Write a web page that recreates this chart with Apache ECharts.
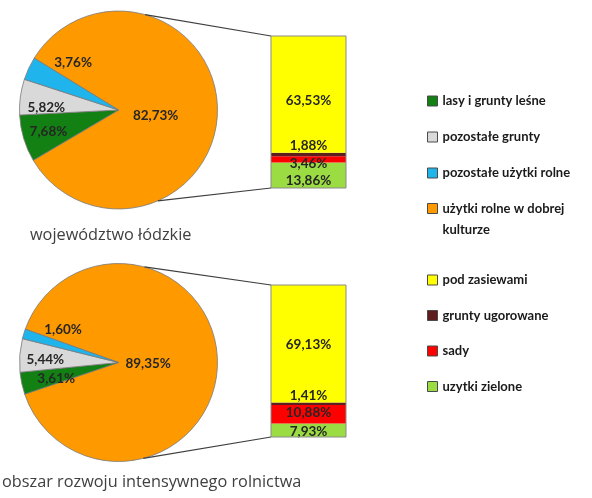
<!DOCTYPE html>
<html>
<head>
<meta charset="utf-8">
<script src="https://cdn.jsdelivr.net/npm/echarts@6/dist/echarts.min.js"></script>
<style>
  html, body { margin: 0; padding: 0; background: #fff; }
  #chart { width: 592px; height: 498px; }
</style>
</head>
<body>
<div id="chart"></div>
<script>
// Land-use structure: pie of all land, bar breaking down the agricultural slice
const pieNames = ['użytki rolne w dobrej kulturze', 'lasy i grunty leśne', 'pozostałe grunty', 'pozostałe użytki rolne'];
const pieColors = ['#ff9900', '#128012', '#d9d9d9', '#20b4ec'];
const pieLodzkie = [82.73, 7.68, 5.82, 3.76];
const pieIntensywne = [89.35, 3.61, 5.44, 1.60];

// stacked from the bottom up
const barNames = ['uzytki zielone', 'sady', 'grunty ugorowane', 'pod zasiewami'];
const barColors = ['#9bdc42', '#ff0000', '#5e1e1e', '#ffff00'];
const barLodzkie = [13.86, 3.46, 1.88, 63.53];
const barIntensywne = [7.93, 10.88, 1.41, 69.13];

const captions = ['województwo łódzkie', 'obszar rozwoju intensywnego rolnictwa'];

// layout of the two panels
const BAR_LEFT = 271, BAR_WIDTH = 75, BAR_HEIGHT = 152;
const panels = [
  {
    pie: pieLodzkie, bar: barLodzkie, center: [118.5, 110], radius: 99, startAngle: 148.4,
    barTop: 36, captionPos: [30, 227],
    // label placement inside the pie: [angle in degrees, fraction of radius]
    pieLabelPolar: [[-9, 0.38], [197, 0.74], [178.5, 0.73], [134, 0.66]],
    barLabel: [{ position: 'inside', offset: [0, 5] }, { position: 'inside', offset: [0, 4.5] },
               { position: 'top', distance: 0 }, { position: 'inside', offset: [0, 6] }],
    connectAngles: [74.4, -66.6]
  },
  {
    pie: pieIntensywne, bar: barIntensywne, center: [118.5, 362.5], radius: 99, startAngle: 160.3,
    barTop: 285, captionPos: [2, 474],
    pieLabelPolar: [[-3, 0.30], [194.4, 0.65], [178, 0.74], [149.5, 0.65]],
    barLabel: [{ position: 'inside', offset: [0, 1] }, { position: 'inside', offset: [0, -2] },
               { position: 'top', distance: 0 }, { position: 'inside', offset: [0, 1] }],
    connectAngles: [74.8, -75.5]
  }
];

const fmt = v => v.toFixed(2).replace('.', ',') + '%';
const labelFont = { fontFamily: 'Lato', fontWeight: 'bold', fontSize: 13.5, color: '#262626' };
const legendText = { fontFamily: 'Lato', fontWeight: 'bold', fontSize: 13, color: '#1a1a1a', lineHeight: 16 };

const grids = [], xAxes = [], yAxes = [], series = [], titles = [];

panels.forEach((p, i) => {
  const total = p.bar.reduce((a, b) => a + b, 0);
  grids.push({ left: BAR_LEFT, top: p.barTop, width: BAR_WIDTH, height: BAR_HEIGHT });
  xAxes.push({ type: 'category', gridIndex: i, data: [''], show: false });
  yAxes.push({ type: 'value', gridIndex: i, min: 0, max: total, show: false });

  series.push({
    type: 'pie',
    center: p.center,
    radius: p.radius,
    startAngle: p.startAngle,
    clockwise: true,
    silent: true,
    emphasis: { disabled: true },
    itemStyle: { borderColor: '#7a7a7a', borderWidth: 0.8 },
    label: Object.assign({ show: true, position: 'inside', formatter: d => fmt(d.value) }, labelFont),
    labelLine: { show: false },
    labelLayout: (params) => {
      const [ang, f] = p.pieLabelPolar[params.dataIndex];
      const a = ang * Math.PI / 180;
      return {
        x: p.center[0] + f * p.radius * Math.cos(a),
        y: p.center[1] - f * p.radius * Math.sin(a),
        align: 'center',
        verticalAlign: 'middle'
      };
    },
    data: pieNames.map((n, k) => ({ name: n, value: p.pie[k], itemStyle: { color: pieColors[k] } }))
  });

  barNames.forEach((n, k) => {
    series.push({
      type: 'bar',
      name: n,
      xAxisIndex: i,
      yAxisIndex: i,
      stack: 'bar' + i,
      barWidth: '100%',
      silent: true,
      emphasis: { disabled: true },
      itemStyle: { color: barColors[k] },
      label: Object.assign({ show: true, formatter: d => fmt(d.value) }, labelFont, p.barLabel[k]),
      data: [p.bar[k]]
    });
  });

  titles.push({
    text: captions[i],
    left: p.captionPos[0],
    top: p.captionPos[1],
    padding: 0,
    textStyle: { fontFamily: 'Open Sans', fontWeight: 'normal', fontSize: 16.3, color: '#404040' }
  });
});

const legendBase = {
  orient: 'vertical', left: 427, itemWidth: 10, itemHeight: 10, icon: 'rect',
  itemStyle: { borderColor: '#4a4a4a', borderWidth: 1 },
  textStyle: legendText, selectedMode: false, padding: 0
};

const option = {
  animation: false,
  backgroundColor: '#ffffff',
  title: titles,
  grid: grids,
  xAxis: xAxes,
  yAxis: yAxes,
  legend: [
    Object.assign({}, legendBase, { top: 93, itemGap: 20, data: [pieNames[1], pieNames[2], pieNames[3]] }),
    // two-line entry: a leading blank line keeps the swatch level with the first text line
    Object.assign({}, legendBase, {
      top: 177, itemGap: 20,
      formatter: () => '\nużytki rolne w dobrej\nkulturze',
      textStyle: Object.assign({}, legendText, { lineHeight: 21 }),
      data: [pieNames[0]]
    }),
    Object.assign({}, legendBase, { top: 272, itemGap: 19.5, data: barNames.slice().reverse() })
  ],
  series: series
};

const chart = echarts.init(document.getElementById('chart'), null, { renderer: 'canvas' });
chart.setOption(option);

// connector lines from the pie rim to the corners of the breakdown bar, plus the bar outline
const extras = [];
panels.forEach((p, i) => {
  const total = p.bar.reduce((a, b) => a + b, 0);
  const yTop = chart.convertToPixel({ yAxisIndex: i }, total);
  const yBottom = chart.convertToPixel({ yAxisIndex: i }, 0);
  extras.push({
    type: 'rect',
    silent: true,
    z: 90,
    shape: { x: BAR_LEFT, y: yTop, width: BAR_WIDTH, height: yBottom - yTop },
    style: { fill: 'none', stroke: '#8a8a8a', lineWidth: 1 }
  });
  [yTop, yBottom].forEach((yEnd, j) => {
    const a = p.connectAngles[j] * Math.PI / 180;
    extras.push({
      type: 'line',
      silent: true,
      z: 100,
      shape: {
        x1: p.center[0] + p.radius * Math.cos(a),
        y1: p.center[1] - p.radius * Math.sin(a),
        x2: BAR_LEFT,
        y2: yEnd
      },
      style: { stroke: '#3f3f3f', lineWidth: 1.2 }
    });
  });
});
chart.setOption({ graphic: extras });
</script>
</body>
</html>
